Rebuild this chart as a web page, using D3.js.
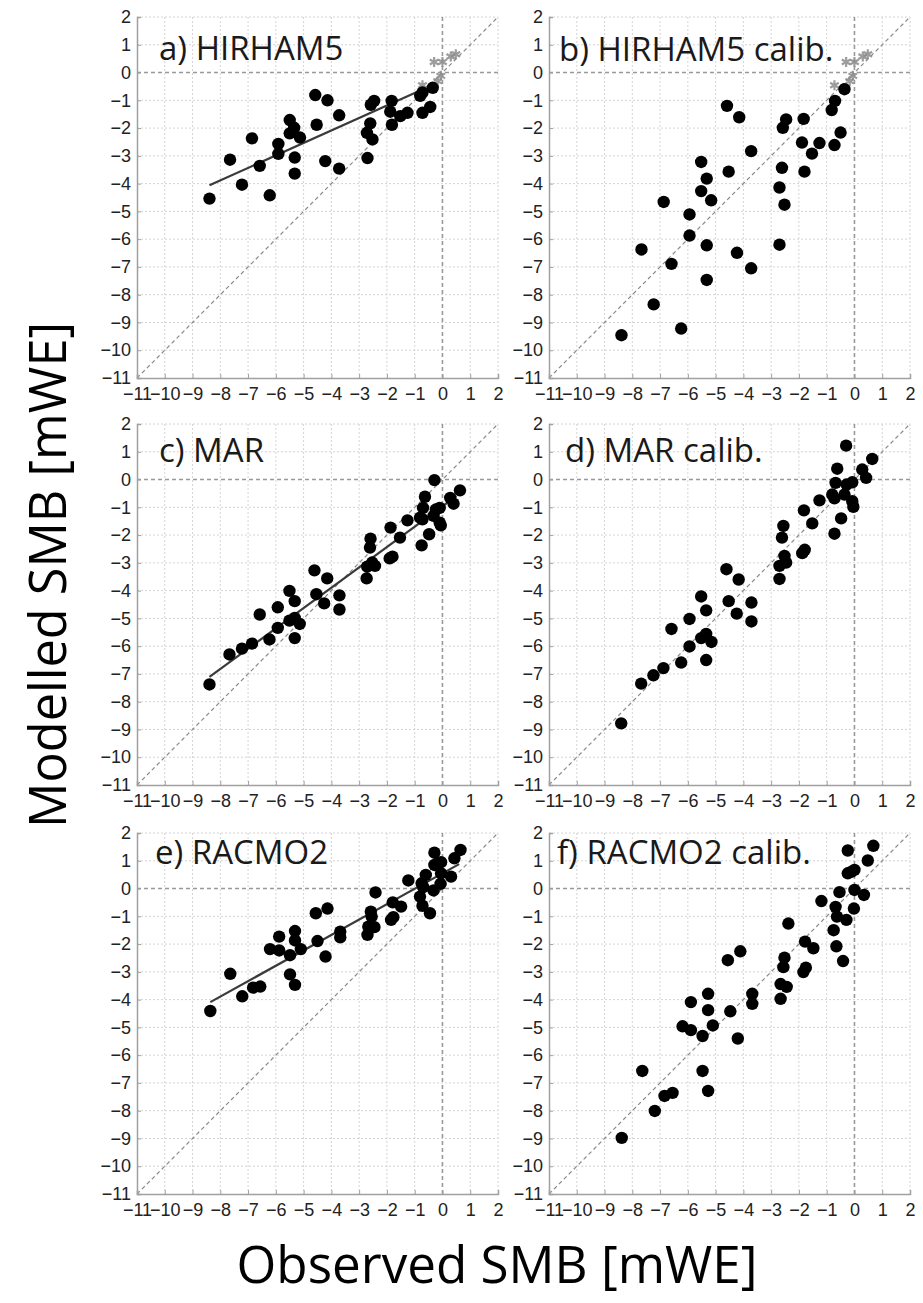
<!DOCTYPE html>
<html>
<head>
<meta charset="utf-8">
<script src="https://cdn.jsdelivr.net/npm/d3@7"></script>
<style>
  html, body { margin: 0; padding: 0; background: #fff; }
  svg { display: block; }
</style>
</head>
<body>
<svg id="chart" width="923" height="1303"></svg>
<script>
// ---------- DATA ----------
const tickValues = [-11,-10,-9,-8,-7,-6,-5,-4,-3,-2,-1,0,1,2];
const titles = ["a) HIRHAM5","b) HIRHAM5 calib.","c) MAR","d) MAR calib.","e) RACMO2","f) RACMO2 calib."];
const xLabel = "Observed SMB [mWE]";
const yLabel = "Modelled SMB [mWE]";

const obsA = [-8.39,-7.65,-6.86,-7.22,-6.58,-6.22,-5.91,-5.91,-5.50,-5.50,-5.34,-5.13,-5.32,-5.32,-4.58,-4.53,-4.14,-4.22,-3.72,-3.72,-2.72,-2.70,-2.60,-2.58,-2.46,-2.52,-1.83,-1.88,-1.82,-1.52,-1.26,-0.80,-0.72,-0.72,-0.44,-0.35];
const modA = [-4.54,-3.14,-2.37,-4.04,-3.36,-4.42,-2.57,-2.93,-1.71,-2.19,-1.99,-2.34,-3.06,-3.64,-0.81,-1.88,-1.00,-3.19,-1.54,-3.46,-2.17,-3.08,-1.83,-1.16,-1.02,-2.41,-1.02,-1.41,-1.88,-1.57,-1.45,-0.84,-0.72,-1.45,-1.24,-0.55];

const obsB = [-8.39,-7.67,-7.23,-6.87,-6.59,-6.24,-5.94,-5.94,-5.52,-5.52,-5.32,-5.16,-5.32,-5.32,-4.59,-4.53,-4.15,-4.23,-3.72,-3.72,-2.70,-2.70,-2.61,-2.52,-2.58,-2.46,-1.83,-1.89,-1.80,-1.53,-1.26,-0.82,-0.70,-0.72,-0.50,-0.36];
const modB = [-9.46,-6.37,-8.35,-4.66,-6.89,-9.22,-5.11,-5.87,-3.22,-4.27,-3.82,-4.60,-6.22,-7.47,-1.20,-3.57,-1.61,-6.49,-2.83,-7.05,-6.20,-4.14,-3.43,-4.76,-1.99,-1.69,-1.67,-2.52,-3.57,-2.92,-2.54,-1.35,-1.02,-2.61,-2.16,-0.60];

const obsC = [-8.39,-7.67,-7.22,-6.86,-6.58,-6.23,-5.93,-5.93,-5.51,-5.51,-5.32,-5.32,-5.32,-5.14,-4.61,-4.54,-4.15,-4.26,-3.71,-3.71,-2.73,-2.71,-2.61,-2.59,-2.53,-2.43,-1.87,-1.90,-1.80,-1.53,-1.26,-0.81,-0.72,-0.63,-0.70,-0.75,-0.48,-0.32,-0.29,-0.24,-0.10,-0.10,-0.06,0.28,0.40,0.63];
const modC = [-7.38,-6.30,-6.09,-5.91,-4.86,-5.76,-4.60,-5.34,-4.01,-5.08,-4.38,-4.98,-5.71,-5.20,-3.27,-4.13,-3.56,-4.46,-4.17,-4.68,-3.56,-3.14,-2.45,-2.13,-2.99,-3.11,-1.73,-2.84,-2.78,-2.09,-1.47,-1.37,-1.43,-0.62,-1.02,-2.37,-1.97,-1.31,-0.02,-1.08,-1.02,-1.55,-1.65,-0.66,-0.87,-0.39];

const obsD = [-8.40,-7.68,-7.24,-6.88,-6.59,-6.24,-5.94,-5.94,-5.52,-5.52,-5.34,-5.34,-5.34,-5.15,-4.61,-4.53,-4.17,-4.24,-3.71,-3.71,-2.70,-2.70,-2.61,-2.56,-2.52,-2.46,-1.82,-1.88,-1.79,-1.52,-1.26,-0.80,-0.72,-0.68,-0.62,-0.72,-0.48,-0.36,-0.30,-0.28,-0.08,-0.08,-0.04,0.28,0.42,0.64];
const modD = [-8.78,-7.35,-7.05,-6.79,-5.38,-6.59,-5.02,-6.01,-4.21,-5.71,-4.71,-5.56,-6.50,-5.85,-3.23,-4.38,-3.60,-4.83,-4.43,-5.11,-3.58,-3.11,-2.09,-1.67,-2.75,-2.99,-1.11,-2.65,-2.53,-1.58,-0.75,-0.54,-0.68,-0.12,0.39,-1.95,-1.40,-0.54,1.22,-0.18,-0.10,-0.78,-0.98,0.36,0.06,0.74];

const obsE = [-8.36,-7.64,-7.21,-6.82,-6.56,-6.21,-5.88,-5.88,-5.49,-5.49,-5.31,-5.31,-5.31,-5.10,-4.56,-4.50,-4.14,-4.21,-3.68,-3.68,-2.70,-2.67,-2.58,-2.55,-2.45,-2.41,-1.85,-1.79,-1.77,-1.49,-1.23,-0.81,-0.72,-0.75,-0.69,-0.60,-0.45,-0.32,-0.29,-0.29,-0.17,-0.05,-0.05,-0.07,0.31,0.43,0.65];
const modE = [-4.41,-3.07,-3.88,-3.57,-3.53,-2.18,-1.73,-2.23,-2.40,-3.09,-1.53,-1.87,-3.47,-2.18,-0.89,-1.89,-0.72,-2.45,-1.55,-1.76,-1.67,-1.37,-0.83,-1.01,-1.39,-0.14,-1.13,-0.50,-1.03,-0.65,0.29,-0.29,-0.62,0.19,0.05,0.49,-0.89,-0.07,1.29,0.85,0.91,0.95,0.55,0.17,0.43,1.09,1.39];

const obsF = [-8.38,-7.64,-7.19,-6.84,-6.55,-6.19,-5.89,-5.89,-5.47,-5.47,-5.27,-5.27,-5.27,-5.10,-4.56,-4.47,-4.11,-4.20,-3.68,-3.68,-2.66,-2.66,-2.56,-2.52,-2.44,-2.38,-1.84,-1.78,-1.75,-1.48,-1.19,-0.75,-0.68,-0.65,-0.63,-0.54,-0.41,-0.29,-0.24,-0.24,-0.12,0.00,0.00,-0.02,0.34,0.48,0.68];
const modF = [-8.98,-6.57,-8.01,-7.47,-7.36,-4.96,-4.09,-5.10,-5.31,-6.57,-3.79,-4.38,-7.29,-4.93,-2.58,-4.42,-2.26,-5.40,-3.79,-4.15,-3.97,-3.44,-2.83,-2.49,-3.54,-1.26,-3.01,-1.91,-2.85,-2.15,-0.45,-1.50,-0.66,-2.08,-1.01,-0.13,-2.61,-1.13,1.37,0.55,0.60,0.67,-0.05,-0.72,-0.23,1.01,1.54];

// grey asterisk markers near the origin (panels a and b)
const starObs = [-0.72,-0.17,-0.06,-0.30,0.00,0.30,0.48];
const starMod = [-0.46,-0.31,-0.12,0.38,0.38,0.58,0.66];

// regression line end points (panels a, c, e)
const regObsA = [-8.39,-0.66], regModA = [-4.06,-0.58];
const regObsC = [-8.39, 0.50], regModC = [-7.11,-0.60];
const regObsE = [-8.36, 0.60], regModE = [-4.09, 0.88];

// ---------- LAYOUT ----------
const svg = d3.select("#chart");
const colX = [137, 549];
const rowY = [17, 424, 833];
const plotW = 361, plotH = 361;

const panels = [
  {obs: obsA, mod: modA, reg: [regObsA, regModA], stars: true},
  {obs: obsB, mod: modB, reg: null, stars: true},
  {obs: obsC, mod: modC, reg: [regObsC, regModC], stars: false},
  {obs: obsD, mod: modD, reg: null, stars: false},
  {obs: obsE, mod: modE, reg: [regObsE, regModE], stars: false},
  {obs: obsF, mod: modF, reg: null, stars: false}
];
const titleDx = [22, 10, 22, 16, 18, 8];
const titleDy = [43, 44, 38, 38, 31, 31];

panels.forEach((p, i) => {
  const col = i % 2, row = Math.floor(i / 2);
  const g = svg.append("g").attr("transform", `translate(${colX[col]},${rowY[row]})`);
  const x = d3.scaleLinear().domain([-11, 2]).range([0, plotW]);
  const y = d3.scaleLinear().domain([-11, 2]).range([plotH, 0]);

  // grid
  g.append("g").selectAll("line.v").data(tickValues.filter(t => t !== -11 && t !== 0)).join("line")
    .attr("x1", d => x(d)).attr("x2", d => x(d)).attr("y1", 0).attr("y2", plotH)
    .attr("stroke", "#d4d4d4").attr("stroke-width", 1).attr("stroke-dasharray", "2,2");
  g.append("g").selectAll("line.h").data(tickValues.filter(t => t !== -11 && t !== 0)).join("line")
    .attr("y1", d => y(d)).attr("y2", d => y(d)).attr("x1", 0).attr("x2", plotW)
    .attr("stroke", "#d4d4d4").attr("stroke-width", 1).attr("stroke-dasharray", "2,2");

  // zero lines
  g.append("line").attr("x1", x(0)).attr("x2", x(0)).attr("y1", 0).attr("y2", plotH)
    .attr("stroke", "#999").attr("stroke-width", 1.6).attr("stroke-dasharray", "4,3");
  g.append("line").attr("y1", y(0)).attr("y2", y(0)).attr("x1", 0).attr("x2", plotW)
    .attr("stroke", "#999").attr("stroke-width", 1.6).attr("stroke-dasharray", "4,3");

  // 1:1 line
  g.append("line").attr("x1", x(-11)).attr("y1", y(-11)).attr("x2", x(2)).attr("y2", y(2))
    .attr("stroke", "#8a8a8a").attr("stroke-width", 1.2).attr("stroke-dasharray", "4,3");

  // axes
  const xAxis = d3.axisBottom(x).tickValues(tickValues).tickSize(-4).tickPadding(10).tickFormat(d3.format("d"));
  const yAxis = d3.axisLeft(y).tickValues(tickValues).tickSize(-4).tickPadding(6).tickFormat(d3.format("d"));
  const gx = g.append("g").attr("transform", `translate(0,${plotH})`).call(xAxis);
  const gy = g.append("g").call(yAxis);
  [gx, gy].forEach(a => {
    a.select(".domain").attr("stroke", "#a0a0a0").attr("stroke-width", 1.5);
    a.selectAll(".tick line").attr("stroke", "#a0a0a0");
    a.selectAll(".tick text").attr("font-family", "Liberation Sans, Arial, sans-serif")
      .attr("font-size", 18).attr("fill", "#222");
  });
  gx.selectAll(".tick text").attr("dy", "0.71em").attr("transform", "translate(0,-1)");

  // regression line
  if (p.reg) {
    g.append("line")
      .attr("x1", x(p.reg[0][0])).attr("y1", y(p.reg[1][0]))
      .attr("x2", x(p.reg[0][1])).attr("y2", y(p.reg[1][1]))
      .attr("stroke", "#3a3a3a").attr("stroke-width", 2.2);
  }

  // asterisk markers
  if (p.stars) {
    const sym = d3.symbol().type(d3.symbolAsterisk).size(70);
    g.append("g").selectAll("path").data(starObs.map((o, k) => [o, starMod[k]])).join("path")
      .attr("d", sym).attr("transform", d => `translate(${x(d[0])},${y(d[1])})`)
      .attr("fill", "none").attr("stroke", "#8c8c8c").attr("stroke-width", 2.2).attr("opacity", 0.85);
  }

  // dots
  g.append("g").selectAll("circle").data(p.obs.map((o, k) => [o, p.mod[k]])).join("circle")
    .attr("cx", d => x(d[0])).attr("cy", d => y(d[1])).attr("r", 6.2).attr("fill", "#000");

  // title
  g.append("text").attr("x", titleDx[i]).attr("y", titleDy[i]).text(titles[i])
    .attr("font-family", "Open Sans, sans-serif").attr("font-size", 33).attr("fill", "#1a1a1a");
});

// axis titles, fitted to the widths seen in the picture
function fitText(sel, target) {
  const len = sel.node().getComputedTextLength();
  const fs = parseFloat(sel.attr("font-size"));
  sel.attr("font-size", fs * target / len);
}
const xl = svg.append("text").attr("x", 497).attr("y", 1283).attr("text-anchor", "middle")
  .attr("font-family", "Open Sans, sans-serif").attr("font-size", 52).attr("fill", "#000").text(xLabel);
fitText(xl, 521);
const yl = svg.append("text").attr("transform", "translate(66,575) rotate(-90)").attr("text-anchor", "middle")
  .attr("font-family", "Open Sans, sans-serif").attr("font-size", 52).attr("fill", "#000").text(yLabel);
fitText(yl, 506);
</script>
</body>
</html>
